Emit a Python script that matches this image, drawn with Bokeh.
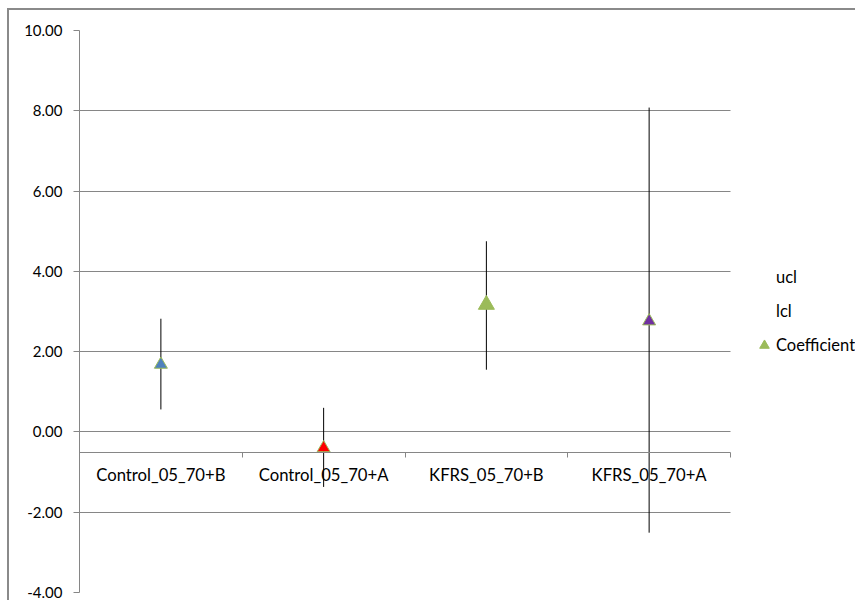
from bokeh.plotting import figure
from bokeh.models import (Range1d, FixedTicker, Legend, LegendItem, PrintfTickFormatter)
from bokeh.embed import file_html
from bokeh.resources import INLINE

# ---- data ----
categories = ["Control_05_70+B", "Control_05_70+A", "KFRS_05_70+B", "KFRS_05_70+A"]
coefficient = [1.68, -0.40, 3.17, 2.76]
ucl = [2.82, 0.60, 4.75, 8.08]
lcl = [0.56, -1.37, 1.55, -2.51]
y_ticks = [-4, -2, 0, 2, 4, 6, 8, 10]

# ---- styles ----
marker_colors = ["#4F81BD", "#FF0000", "#9BBB59", "#7030A0"]
marker_sizes = [13, 13, 16, 13]
GRID = "#868686"
FONT = "Lato"

n = len(categories)
x_pos = [i + 0.5 for i in range(n)]
boundaries = list(range(n + 1))

# plot area: categories span 651 px; frame extends to the right edge so the
# legend (drawn inside the frame) is not clipped
W, H = 855, 600
LEFT, TOP, BOTTOM = 79, 30, 8
cat_px = 651
frame_w = W - LEFT
x_end = n * frame_w / cat_px

p = figure(width=W, height=H, output_backend="svg", toolbar_location=None,
           x_range=Range1d(0, x_end), y_range=Range1d(-4, 10),
           min_border_left=LEFT, min_border_right=0, min_border_top=TOP, min_border_bottom=BOTTOM)
# chart-area border (left and top edges visible in the reference)
p.styles = {
    "background": ("linear-gradient(#8a8a8a,#8a8a8a) no-repeat 7px 8px / 2px 100%, "
                   "linear-gradient(#8a8a8a,#8a8a8a) no-repeat 7px 8px / 100% 2px, white"),
}
p.outline_line_color = None
p.background_fill_color = "white"
p.border_fill_alpha = 0

# y axis
p.yaxis.ticker = FixedTicker(ticks=y_ticks)
p.yaxis.formatter = PrintfTickFormatter(format="%.2f")
p.yaxis.axis_line_color = GRID
p.yaxis.major_tick_line_color = GRID
p.yaxis.major_tick_out = 6
p.yaxis.major_tick_in = 0
p.yaxis.minor_tick_line_color = None
p.yaxis.major_label_text_font = FONT
p.yaxis.major_label_text_font_size = "15px"
p.yaxis.major_label_text_color = "black"
p.yaxis.major_label_standoff = 11

# category axis crossing at -0.5
xa = p.xaxis[0]
xa.fixed_location = -0.5
xa.bounds = (0, n)
xa.ticker = FixedTicker(ticks=x_pos, minor_ticks=boundaries)
xa.major_label_overrides = {x: c for x, c in zip(x_pos, categories)}
xa.major_tick_line_color = None
xa.minor_tick_line_color = GRID
xa.minor_tick_out = 5
xa.minor_tick_in = 0
xa.axis_line_color = GRID
xa.major_label_text_font = FONT
xa.major_label_text_font_size = "16.7px"
xa.major_label_text_color = "black"
xa.major_label_standoff = 7

p.xgrid.visible = False
p.ygrid.ticker = FixedTicker(ticks=y_ticks)
p.ygrid.cross_bounds = (0, n)
p.ygrid.grid_line_color = GRID
p.ygrid.grid_line_width = 1

# high-low lines
p.segment(x0=x_pos, y0=lcl, x1=x_pos, y1=ucl, line_color="black", line_width=1)

# invisible series for legend entries
r_ucl = p.scatter(x_pos, ucl, size=1, alpha=0)
r_lcl = p.scatter(x_pos, lcl, size=1, alpha=0)

r_coef = p.scatter(x=x_pos, y=coefficient, marker="triangle", size=marker_sizes,
                   fill_color=marker_colors, line_color="#9BBB59", line_width=1)

legend = Legend(items=[LegendItem(label="ucl", renderers=[r_ucl]),
                       LegendItem(label="lcl", renderers=[r_lcl]),
                       LegendItem(label="Coefficient", renderers=[r_coef], index=2)],
                location=(673, 235), orientation="vertical",
                glyph_width=24, glyph_height=24, spacing=10, label_standoff=-4,
                padding=0, margin=0, border_line_color=None, background_fill_alpha=0,
                label_text_font=FONT, label_text_font_size="16.5px", label_text_color="black")
p.add_layout(legend)

open("out.html", "w").write(file_html(p, INLINE))
